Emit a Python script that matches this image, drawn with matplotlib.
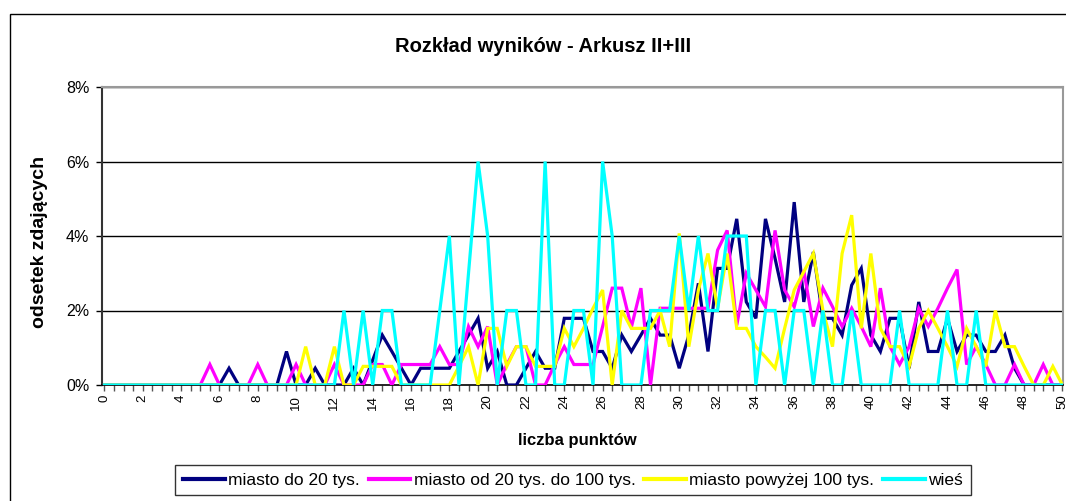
import matplotlib
matplotlib.use("Agg")
import matplotlib.pyplot as plt
from matplotlib import font_manager
from matplotlib.patches import Rectangle
import numpy as np

# ---------------- data ----------------
points = [i / 2 for i in range(101)]  # 0, 0.5, ..., 50

miasto_do_20 = [0, 0, 0, 0, 0, 0, 0, 0, 0, 0,
                0, 0, 0, 0.45, 0, 0, 0, 0, 0, 0.9,
                0, 0, 0.45, 0, 0, 0, 0.45, 0, 0.67, 1.34,
                0.9, 0.45, 0, 0.45, 0.45, 0.45, 0.45, 0.9, 1.34, 1.79,
                0.45, 0.9, 0, 0, 0.45, 0.9, 0.45, 0.45, 1.79, 1.79,
                1.79, 0.9, 0.9, 0.45, 1.34, 0.9, 1.34, 1.79, 1.34, 1.34,
                0.45, 1.34, 2.73, 0.9, 3.13, 3.13, 4.46, 2.23, 1.79, 4.46,
                3.4, 2.23, 4.91, 2.23, 3.57, 1.79, 1.79, 1.34, 2.68, 3.13,
                1.34, 0.9, 1.79, 1.79, 0.45, 2.23, 0.9, 0.9, 1.79, 0.9,
                1.34, 1.34, 0.9, 0.9, 1.34, 0.45, 0, 0, 0, 0,
                0]

miasto_20_100 = [0, 0, 0, 0, 0, 0, 0, 0, 0, 0,
                 0, 0.55, 0, 0, 0, 0, 0.55, 0, 0, 0,
                 0.55, 0, 0, 0, 0.55, 0, 0, 0, 0.55, 0.55,
                 0, 0.55, 0.55, 0.55, 0.55, 1.03, 0.55, 0.55, 1.57, 1.03,
                 1.57, 0, 0.55, 1.03, 1.03, 0, 0, 0.55, 1.03, 0.55,
                 0.55, 0.55, 1.57, 2.6, 2.6, 1.55, 2.6, 0, 2.06, 2.06,
                 2.06, 2.06, 2.06, 2.06, 3.62, 4.15, 1.6, 3.0, 2.55, 2.1,
                 4.15, 2.55, 2.1, 3.08, 1.57, 2.6, 2.1, 1.57, 2.06, 1.57,
                 1.03, 2.6, 1.03, 0.55, 1.03, 2.06, 1.57, 2.06, 2.6, 3.1,
                 0.55, 1.03, 0.55, 0, 0, 0.55, 0, 0, 0.55, 0,
                 0]

miasto_pow_100 = [0, 0, 0, 0, 0, 0, 0, 0, 0, 0,
                  0, 0, 0, 0, 0, 0, 0, 0, 0, 0,
                  0, 1.03, 0, 0, 1.03, 0, 0, 0.5, 0.5, 0.5,
                  0.5, 0, 0, 0, 0, 0, 0, 0.5, 1.03, 0,
                  1.52, 1.52, 0.5, 1.03, 1.03, 0.5, 0.5, 0.5, 1.52, 1.03,
                  1.52, 2.06, 2.55, 0, 2.0, 1.52, 1.52, 1.52, 2.0, 1.03,
                  4.07, 1.03, 2.55, 3.53, 2.06, 3.53, 1.52, 1.52, 1.03, 0.75,
                  0.45, 1.52, 2.55, 3.04, 3.53, 2.0, 1.03, 3.53, 4.56, 1.52,
                  3.53, 1.52, 1.03, 1.03, 0.5, 1.52, 2.0, 1.52, 1.03, 0.5,
                  1.52, 1.03, 0.5, 2.0, 1.03, 1.03, 0.5, 0, 0, 0.5,
                  0]

wies = [0, 0, 0, 0, 0, 0, 0, 0, 0, 0,
        0, 0, 0, 0, 0, 0, 0, 0, 0, 0,
        0, 0, 0, 0, 0, 2, 0, 2, 0, 2,
        2, 0, 0, 0, 0, 2, 4, 0, 3, 6,
        4, 0, 2, 2, 0, 0, 6, 0, 0, 2,
        2, 0, 6, 4, 0, 0, 0, 2, 2, 2,
        4, 2, 4, 2, 2, 4, 4, 4, 0, 2,
        2, 0, 2, 2, 0, 2, 0, 0, 2, 0,
        0, 0, 0, 2, 0, 0, 0, 0, 2, 0,
        0, 2, 0, 0, 0, 0, 0, 0, 0, 0,
        0]

series_names = ["miasto do 20 tys.", "miasto od 20 tys. do 100 tys.",
                "miasto powyżej 100 tys.", "wieś"]
series_colors = ["#000080", "#FF00FF", "#FFFF00", "#00FFFF"]
x_tick_values = list(range(0, 51, 2))
y_tick_values = [0, 2, 4, 6, 8]
title_text = "Rozkład wyników - Arkusz II+III"
xlabel_text = "liczba punktów"
ylabel_text = "odsetek zdających"

# ---------------- fonts ----------------
avail = {f.name for f in font_manager.fontManager.ttflist}
base_font = "Liberation Sans" if "Liberation Sans" in avail else "DejaVu Sans"
narrow_font = "Liberation Sans Narrow" if "Liberation Sans Narrow" in avail else base_font
plt.rcParams["font.family"] = [base_font, "DejaVu Sans"]

# ---------------- figure ----------------
W, H = 1066, 501
fig = plt.figure(figsize=(W / 100, H / 100), dpi=100)
fig.patch.set_facecolor("white")

# outer chart frame
fig.add_artist(Rectangle((10 / W, -0.1), 1.2, 1 - 14 / H + 0.1, transform=fig.transFigure,
                         fill=False, edgecolor="black", linewidth=1.0))

ax_left, ax_right = 102 / W, 1063 / W
ax_top, ax_bottom = 1 - 87 / H, 1 - 385 / H
ax = fig.add_axes([ax_left, ax_bottom, ax_right - ax_left, ax_top - ax_bottom])

data = [miasto_do_20, miasto_20_100, miasto_pow_100, wies]
for vals, name, col in zip(data, series_names, series_colors):
    ax.plot(points, vals, color=col, lw=2.3, label=name, solid_joinstyle="miter", zorder=3)

ax.set_xlim(-0.13, 50.03)
ax.set_ylim(0, 8)
ax.set_yticks(y_tick_values)
ax.set_yticklabels([f"{v}%" for v in y_tick_values], fontsize=11.5)
ax.set_xticks(x_tick_values)
ax.set_xticklabels([str(v) for v in x_tick_values], rotation=90, fontsize=9.5, family=narrow_font)
ax.set_xticks(points, minor=True)
ax.tick_params(axis="x", which="both", direction="out", length=4, width=1, color="#555555", pad=3)
ax.tick_params(axis="y", which="major", direction="out", length=4, width=1, pad=5)
for y in y_tick_values[1:]:
    ax.axhline(y, color="black", lw=1.0, zorder=1)

ax.spines["left"].set_color("#333333")
ax.spines["left"].set_linewidth(1.5)
ax.spines["bottom"].set_color("black")
ax.spines["bottom"].set_linewidth(1.2)
ax.spines["top"].set_color("#999999")
ax.spines["top"].set_linewidth(1.5)
ax.spines["right"].set_color("#999999")
ax.spines["right"].set_linewidth(1.5)

fig.text(543 / W, 1 - 47 / H, title_text, ha="center", va="center",
         fontsize=14.5, fontweight="bold")
fig.text(577 / W, 1 - 441 / H, xlabel_text, ha="center", va="center",
         fontsize=12, fontweight="bold")
fig.text(40 / W, 1 - 242 / H, ylabel_text, ha="center", va="center",
         rotation=90, fontsize=14, fontweight="bold")

leg = fig.legend(loc="upper center", bbox_to_anchor=(573 / W, 1 - 456 / H), ncol=4,
                 prop={"family": narrow_font, "size": 12.5}, frameon=True, fancybox=False,
                 edgecolor="black", handlelength=2.4, handletextpad=0.2, columnspacing=0.5,
                 borderpad=0.45)
leg.get_frame().set_linewidth(1.0)
for line in leg.get_lines():
    line.set_linewidth(3)

fig.savefig("out.png", dpi=100, facecolor="white")
